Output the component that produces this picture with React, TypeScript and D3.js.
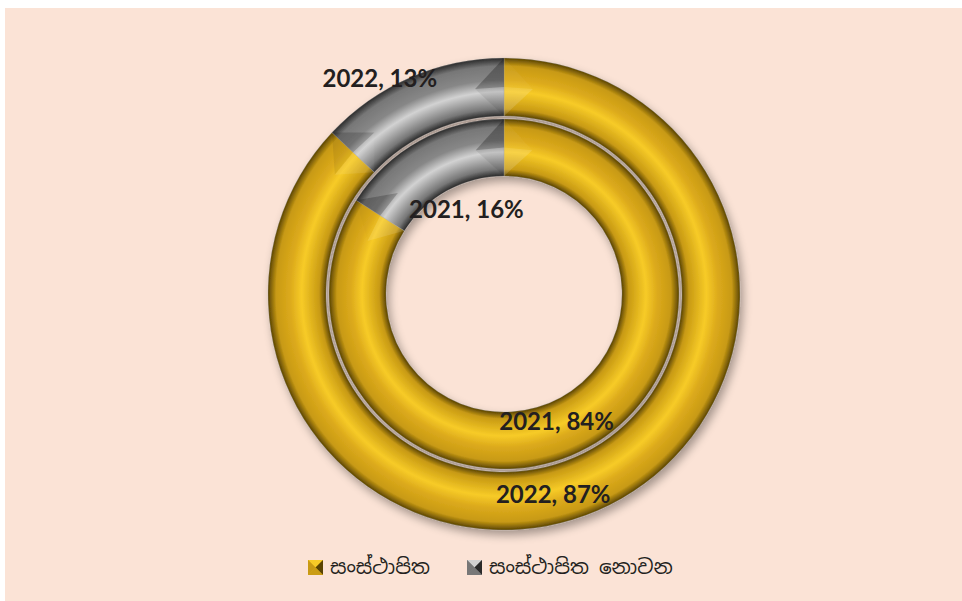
import React from "react";
import * as d3 from "d3";

const categories = ["සංස්ථාපිත", "සංස්ථාපිත නොවන"];
const years = ["2021", "2022"];
const values2021 = [84, 16];
const values2022 = [87, 13];

const W = 962;
const H = 601;
const CX = 504;
const CY = 294;

const ringRadii: Record<string, [number, number]> = {
  "2021": [118, 175],
  "2022": [178, 236],
};
const ringValues: Record<string, number[]> = { "2021": values2021, "2022": values2022 };

// label offsets from arc centroid (layout only)
const labelOffsets: Record<string, [number, number][]> = {
  "2021": [[-18, -2], [33, 43]],
  "2022": [[-33, 10], [-42, -27]],
};

const palette = {
  base: ["#dcaa1c", "#878787"],
  bright: ["#f7cb27", "#d2d2d2"],
  mid: ["#c89a14", "#777777"],
  dark: ["#5a4402", "#2a2a2a"],
};

const color = d3.scaleOrdinal<string, number>().domain(categories).range([0, 1]);

function Ring({ year }: { year: string }) {
  const [r0, r1] = ringRadii[year];
  const vals = ringValues[year];
  const data = categories.map((c, i) => ({ cat: c, v: vals[i] }));
  const pie = d3.pie<{ cat: string; v: number }>().sort(null).value((d) => d.v);
  const arcs = pie(data);
  const arcGen = d3.arc<d3.PieArcDatum<{ cat: string; v: number }>>().innerRadius(r0).outerRadius(r1);
  const f0 = r0 / r1;
  const t = 1 - f0;
  const light = [-0.6, -0.8];
  const rm = (r0 + r1) / 2;
  const bw = (r1 - r0) * 0.5 / rm;

  const caps: JSX.Element[] = [];
  arcs.forEach((a, i) => {
    [[a.startAngle, 1], [a.endAngle, -1]].forEach(([ang, dir], k) => {
      const inward = ang + dir * bw;
      const p = (r: number, an: number) => [r * Math.sin(an), -r * Math.cos(an)];
      const po = p(r1, ang);
      const pi = p(r0, ang);
      const apex = p(rm, inward);
      const tx = -dir * Math.cos(ang);
      const ty = -dir * Math.sin(ang);
      const dot = tx * light[0] + ty * light[1];
      const nx = Math.sin(ang), ny = -Math.cos(ang);
      const dotO = -(nx * light[0] + ny * light[1]);
      const shade = (v: number) => v > 0 ? { fill: "#ffffff", op: Math.min(0.22, v * 0.22) } : { fill: "#000000", op: Math.min(0.4, -v * 0.4) };
      const sA = shade(dot * 0.7 + dotO * 0.3);
      const sB = shade(dot * 0.7 - dotO * 0.3);
      const mid = [(po[0] + pi[0]) / 2, (po[1] + pi[1]) / 2];
      caps.push(
        <path key={`${i}-${k}-o`} d={`M${po[0]},${po[1]}L${apex[0]},${apex[1]}L${mid[0]},${mid[1]}Z`} fill={sA.fill} opacity={sA.op} />,
        <path key={`${i}-${k}-i`} d={`M${pi[0]},${pi[1]}L${apex[0]},${apex[1]}L${mid[0]},${mid[1]}Z`} fill={sB.fill} opacity={sB.op} />
      );
    });
  });

  return (
    <g>
      <defs>
        {categories.map((c, i) => (
          <radialGradient key={c} id={`g-${year}-${i}`} gradientUnits="userSpaceOnUse" cx={0} cy={0} r={r1}>
            <stop offset={f0} stopColor={palette.dark[i]} />
            <stop offset={f0 + t * 0.12} stopColor={palette.mid[i]} />
            <stop offset={f0 + t * 0.42} stopColor={palette.bright[i]} />
            <stop offset={f0 + t * 0.62} stopColor={palette.base[i]} />
            <stop offset={f0 + t * 0.86} stopColor={palette.mid[i]} />
            <stop offset={1} stopColor={palette.dark[i]} />
          </radialGradient>
        ))}
      </defs>
      {arcs.map((a, i) => (
        <path key={i} d={arcGen(a) || ""} fill={`url(#g-${year}-${color(a.data.cat)})`} stroke="#a0a0a0" strokeWidth={0.6} strokeOpacity={0.5} />
      ))}
      {caps}
    </g>
  );
}

function Labels({ year }: { year: string }) {
  const [r0, r1] = ringRadii[year];
  const vals = ringValues[year];
  const data = categories.map((c, i) => ({ cat: c, v: vals[i] }));
  const pie = d3.pie<{ cat: string; v: number }>().sort(null).value((d) => d.v);
  const arcGen = d3.arc<d3.PieArcDatum<{ cat: string; v: number }>>().innerRadius(r0).outerRadius(r1);
  return (
    <g>
      {pie(data).map((a, i) => {
        const [x, y] = arcGen.centroid(a);
        const [dx, dy] = labelOffsets[year][i];
        return (
          <text key={i} x={x + dx} y={y + dy} textAnchor="middle" dominantBaseline="central"
            fontFamily="Lato, 'Open Sans', sans-serif" fontWeight={700} fontSize={24} fill="#231f20">
            {`${year}, ${a.data.v}%`}
          </text>
        );
      })}
    </g>
  );
}

function Marker({ x, y, i }: { x: number; y: number; i: number }) {
  const s = 15;
  const c = [x + s / 2, y + s / 2];
  return (
    <g>
      <rect x={x} y={y} width={s} height={s} fill={palette.base[i]} />
      <path d={`M${x},${y}L${x + s},${y}L${c[0]},${c[1]}Z`} fill={palette.bright[i]} />
      <path d={`M${x},${y}L${x},${y + s}L${c[0]},${c[1]}Z`} fill={palette.mid[i]} />
      <path d={`M${x + s},${y}L${x + s},${y + s}L${c[0]},${c[1]}Z`} fill={palette.dark[i]} />
      <path d={`M${x},${y + s}L${x + s},${y + s}L${c[0]},${c[1]}Z`} fill={palette.mid[i]} opacity={0.9} />
    </g>
  );
}

export default function App() {
  const legendX = [308, 467];
  return (
    <svg width={W} height={H} style={{ position: "absolute", left: 0, top: 0 }}>
      <defs>
        <filter id="shadow" x="-20%" y="-20%" width="140%" height="140%">
          <feGaussianBlur in="SourceAlpha" stdDeviation="5" />
          <feOffset dx="3" dy="5" result="b" />
          <feComponentTransfer><feFuncA type="linear" slope="0.35" /></feComponentTransfer>
          <feMerge><feMergeNode /><feMergeNode in="SourceGraphic" /></feMerge>
        </filter>
      </defs>
      <rect x={5} y={8} width={W - 5} height={H - 8} fill="#fbe3d6" />
      <g transform={`translate(${CX},${CY})`} filter="url(#shadow)">
        {years.map((y) => <Ring key={y} year={y} />)}
      </g>
      <g transform={`translate(${CX},${CY})`}>
        {years.map((y) => <Labels key={y} year={y} />)}
      </g>
      <g>
        {categories.map((c, i) => (
          <g key={c}>
            <Marker x={legendX[i]} y={560} i={i} />
            <text x={legendX[i] + 22} y={574} fontFamily="'Noto Sans Sinhala', 'Iskoola Pota', sans-serif" fontSize={20} fill="#231f20">{c}</text>
          </g>
        ))}
      </g>
    </svg>
  );
}
